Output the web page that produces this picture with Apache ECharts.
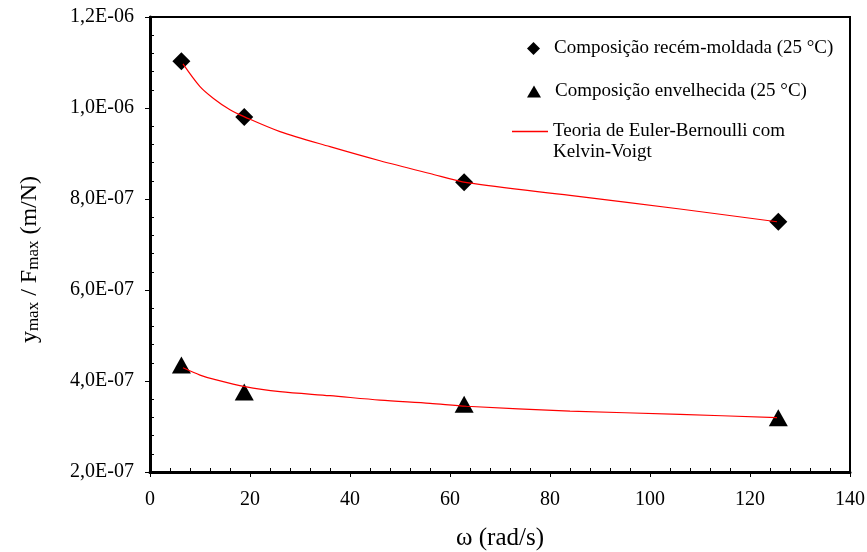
<!DOCTYPE html>
<html>
<head>
<meta charset="utf-8">
<script src="https://cdn.jsdelivr.net/npm/echarts@6/dist/echarts.min.js"></script>
<style>
  html, body { margin: 0; padding: 0; background: #fff; }
  #main { width: 867px; height: 552px; }
</style>
</head>
<body>
<div id="main"></div>
<script>
var chart = echarts.init(document.getElementById('main'), null, { renderer: 'canvas' });

var FONT = "'Liberation Serif', 'Times New Roman', serif";

// pontos medidos
var omega = [6.28, 18.85, 62.83, 125.66];
var recemMoldada = [1.103e-6, 0.980e-6, 0.837e-6, 0.750e-6];
var envelhecida = [0.435e-6, 0.376e-6, 0.349e-6, 0.319e-6];

// curvas teóricas
var teoriaX1 = [6.6, 10, 12.7, 16, 19, 26, 36, 46, 56, 63.4, 84, 106, 125.4];
var teoriaY1 = [1.097e-6, 1.047e-6, 1.021e-6, 0.996e-6, 0.980e-6, 0.948e-6, 0.915e-6, 0.884e-6, 0.856e-6, 0.836e-6, 0.808e-6, 0.778e-6, 0.750e-6];
var teoriaX2 = [6.6, 10, 12.7, 19, 26, 36, 46, 56, 63.3, 84, 106, 125.4];
var teoriaY2 = [0.429e-6, 0.413e-6, 0.404e-6, 0.3875e-6, 0.3765e-6, 0.3677e-6, 0.358e-6, 0.351e-6, 0.3445e-6, 0.334e-6, 0.3268e-6, 0.3193e-6];

var nomeA = 'Composição recém-moldada (25 °C)';
var nomeB = 'Composição envelhecida (25 °C)';
var nomeT = 'Teoria de Euler-Bernoulli com\nKelvin-Voigt';

function pares(xs, ys) {
    var out = [];
    for (var i = 0; i < xs.length; i++) out.push([xs[i], ys[i]]);
    return out;
}

function fmtY(v) {
    var s = v.toExponential(1).split('e');
    var exp = parseInt(s[1], 10);
    var sign = exp < 0 ? '-' : '+';
    var e = Math.abs(exp);
    return s[0].replace('.', ',') + 'E' + sign + (e < 10 ? '0' + e : e);
}

var legendText = { fontFamily: FONT, fontSize: 19, color: '#000', lineHeight: 21, padding: [0, 0, 0, 9] };

chart.setOption({
    backgroundColor: '#fff',
    animation: false,
    textStyle: { fontFamily: FONT },
    grid: {
        left: 150, right: 17, top: 17, bottom: 80,
        outerBoundsMode: 'none',
        show: true, borderColor: '#000', borderWidth: 2
    },
    legend: [
        {
            left: 522, top: 33, itemWidth: 13, itemHeight: 13, selectedMode: false,
            data: [{ name: nomeA, icon: 'diamond' }],
            textStyle: legendText
        },
        {
            left: 522, top: 76, itemWidth: 14, itemHeight: 12, selectedMode: false,
            data: [{ name: nomeB, icon: 'triangle' }],
            textStyle: legendText
        },
        {
            left: 507, top: 95, itemWidth: 36, itemHeight: 1.5, selectedMode: false,
            data: [{ name: nomeT, icon: 'rect' }],
            // linha vazia no início para alinhar a 1a linha com o ícone
            formatter: function (name) { return '\n' + name; },
            textStyle: { fontFamily: FONT, fontSize: 19, color: '#000', lineHeight: 21 }
        }
    ],
    xAxis: [
        {
            type: 'value', min: 0, max: 140, interval: 20,
            name: 'ω (rad/s)', nameLocation: 'middle', nameGap: 54,
            nameTextStyle: { fontFamily: FONT, fontSize: 25, color: '#000' },
            axisLine: { lineStyle: { color: '#000', width: 3 } },
            axisTick: { show: true, inside: false, length: 5, lineStyle: { color: '#000', width: 1 } },
            axisLabel: { fontFamily: FONT, fontSize: 20, color: '#000', margin: 18 },
            splitLine: { show: false }
        },
        {
            type: 'value', min: 0, max: 140, interval: 20, position: 'bottom',
            axisLine: { show: false },
            axisTick: { show: false, inside: true },
            minorTick: { show: true, splitNumber: 5, length: 4, lineStyle: { color: '#000', width: 1 } },
            axisLabel: { show: false },
            splitLine: { show: false }
        }
    ],
    yAxis: [
        {
            type: 'value', min: 2e-7, max: 1.2e-6, interval: 2e-7,
            name: 'y{s|max} / F{s|max} (m/N)', nameLocation: 'middle', nameGap: 108, nameRotate: 90,
            nameTextStyle: {
                fontFamily: FONT, fontSize: 24, color: '#000', padding: [0, 30, 0, 0],
                rich: { s: { fontFamily: FONT, fontSize: 17, color: '#000', verticalAlign: 'bottom', lineHeight: 22 } }
            },
            axisLine: { lineStyle: { color: '#000', width: 3 } },
            axisTick: { show: true, inside: false, length: 5, lineStyle: { color: '#000', width: 1 } },
            axisLabel: { fontFamily: FONT, fontSize: 20, color: '#000', margin: 16, formatter: fmtY },
            splitLine: { show: false }
        },
        {
            type: 'value', min: 2e-7, max: 1.2e-6, interval: 2e-7, position: 'left',
            axisLine: { show: false },
            axisTick: { show: false, inside: true },
            minorTick: { show: true, splitNumber: 5, length: 4, lineStyle: { color: '#000', width: 1 } },
            axisLabel: { show: false },
            splitLine: { show: false }
        }
    ],
    series: [
        {
            name: nomeA, type: 'scatter', symbol: 'diamond', symbolSize: 18,
            itemStyle: { color: '#000', opacity: 1 }, z: 2,
            data: pares(omega, recemMoldada)
        },
        {
            name: nomeB, type: 'scatter', symbol: 'triangle', symbolSize: [19, 17],
            itemStyle: { color: '#000', opacity: 1 }, z: 2,
            data: pares(omega, envelhecida)
        },
        {
            name: nomeT, type: 'line', smooth: 0.3, symbol: 'none', z: 3,
            lineStyle: { color: '#ff0000', width: 1.2 }, itemStyle: { color: '#ff0000' },
            data: pares(teoriaX1, teoriaY1)
        },
        {
            name: nomeT, type: 'line', smooth: 0.3, symbol: 'none', z: 3,
            lineStyle: { color: '#ff0000', width: 1.2 }, itemStyle: { color: '#ff0000' },
            data: pares(teoriaX2, teoriaY2)
        }
    ]
});
</script>
</body>
</html>
